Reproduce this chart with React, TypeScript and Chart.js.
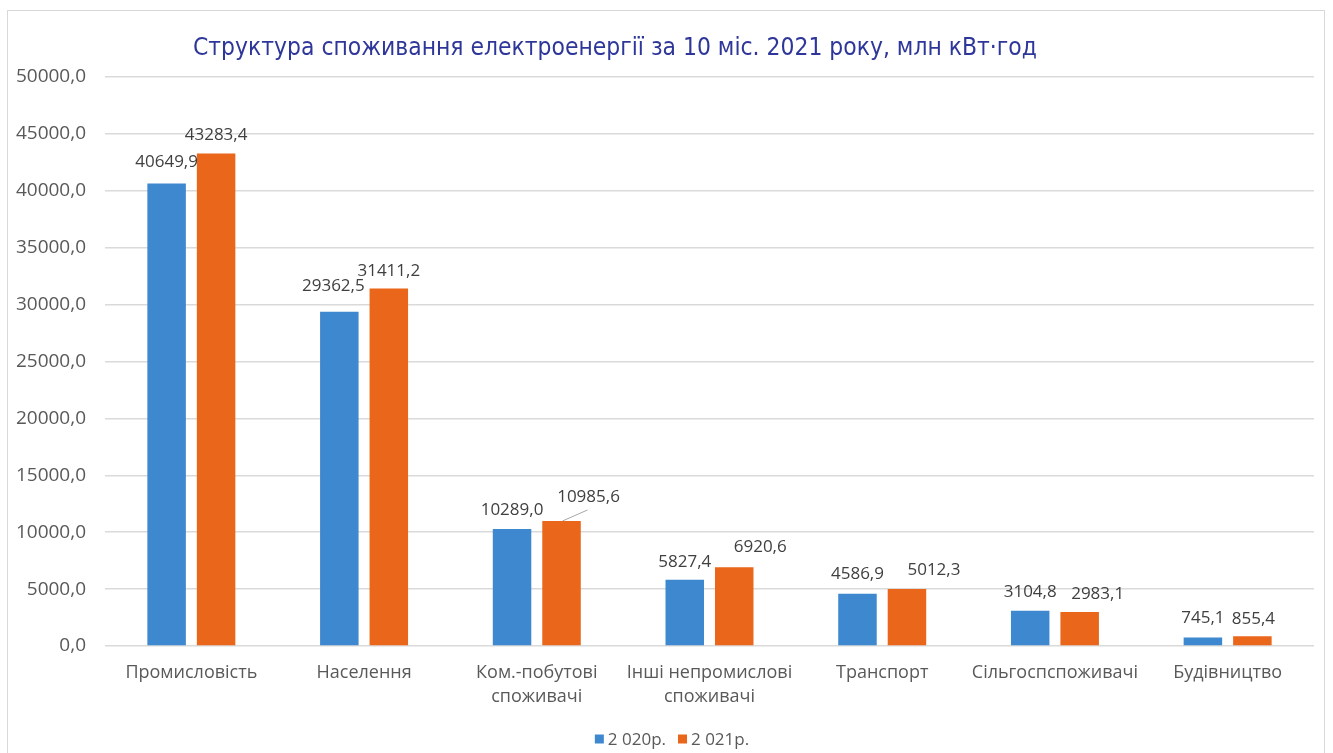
import React, { useEffect, useRef } from "react";
import { Chart, registerables } from "chart.js";

Chart.register(...registerables);

const TITLE = "Структура споживання електроенергії за 10 міс. 2021 року, млн кВт·год";
const categories: (string | string[])[] = [
  "Промисловість",
  "Населення",
  ["Ком.-побутові", "споживачі"],
  ["Інші непромислові", "споживачі"],
  "Транспорт",
  "Сільгоспспоживачі",
  "Будівництво",
];
const seriesLabels = ["2 020р.", "2 021р."];
const values2020 = [40649.9, 29362.5, 10289.0, 5827.4, 4586.9, 3104.8, 745.1];
const values2021 = [43283.4, 31411.2, 10985.6, 6920.6, 5012.3, 2983.1, 855.4];
const yMin = 0;
const yMax = 50000;
const yStep = 5000;

const COLORS = ["#3E88CF", "#E9661A"];
const TEXT = "#595959";
const LABEL_TEXT = "#404040";
const FONT = "'Open Sans', 'Noto Sans', sans-serif";

// label nudges relative to the default position above each bar [dx, dy]
const NUDGES: number[][][] = [
  [[0, -2], [-6, -7], [0, 0], [0, 1], [0, -1], [0, 0], [0, 0]],
  [[0, 1], [0, 2], [27, -5], [26, -1], [27, 0], [18, 1], [1, 2]],
];
const LEADERS: { ds: number; i: number }[] = [{ ds: 1, i: 2 }];

const fmt = (v: number) => v.toFixed(1).replace(".", ",");

const decorPlugin = {
  id: "decor",
  afterDatasetsDraw(chart: any) {
    const ctx: CanvasRenderingContext2D = chart.ctx;
    ctx.save();
    ctx.font = `17px ${FONT}`;
    ctx.fillStyle = LABEL_TEXT;
    ctx.textAlign = "center";
    ctx.textBaseline = "middle";
    chart.data.datasets.forEach((ds: any, di: number) => {
      const meta = chart.getDatasetMeta(di);
      meta.data.forEach((bar: any, i: number) => {
        const [dx, dy] = NUDGES[di][i];
        ctx.fillText(fmt(ds.data[i]), bar.x + dx, bar.y - 19 + dy);
      });
    });
    ctx.strokeStyle = "#A6A6A6";
    ctx.lineWidth = 1;
    LEADERS.forEach(({ ds, i }) => {
      const bar: any = chart.getDatasetMeta(ds).data[i];
      ctx.beginPath();
      ctx.moveTo(bar.x + 1, bar.y);
      ctx.lineTo(bar.x + 26, bar.y - 11);
      ctx.stroke();
    });
    ctx.restore();
  },
  afterDraw(chart: any) {
    const ctx: CanvasRenderingContext2D = chart.ctx;
    ctx.save();
    // title
    ctx.font = `24.4px 'Liberation Sans Narrow', 'DejaVu Sans Condensed', sans-serif`;
    ctx.fillStyle = "#2E3799";
    ctx.textAlign = "left";
    ctx.textBaseline = "alphabetic";
    ctx.fillText(TITLE, 193, 55);
    // legend
    ctx.font = `17px ${FONT}`;
    const box = 9;
    const gapBox = 4;
    const gapItem = 12;
    const widths = chart.data.datasets.map(
      (d: any) => box + gapBox + ctx.measureText(d.label).width
    );
    const total = widths.reduce((a: number, b: number) => a + b, 0) + gapItem;
    let x = 672 - total / 2;
    const cy = 739;
    chart.data.datasets.forEach((d: any, di: number) => {
      ctx.fillStyle = d.backgroundColor;
      ctx.fillRect(x, cy - box / 2, box, box);
      ctx.fillStyle = TEXT;
      ctx.textBaseline = "middle";
      ctx.fillText(d.label, x + box + gapBox, cy + 1);
      x += widths[di] + gapItem;
    });
    ctx.restore();
  },
};

export default function App() {
  const ref = useRef<HTMLCanvasElement | null>(null);
  useEffect(() => {
    if (!ref.current) return;
    const chart = new Chart(ref.current, {
      type: "bar",
      data: {
        labels: categories,
        datasets: [
          {
            label: seriesLabels[0],
            data: values2020,
            backgroundColor: COLORS[0],
            categoryPercentage: 0.573,
            barPercentage: 0.778,
          },
          {
            label: seriesLabels[1],
            data: values2021,
            backgroundColor: COLORS[1],
            categoryPercentage: 0.573,
            barPercentage: 0.778,
          },
        ],
      },
      options: {
        responsive: false,
        animation: false,
        layout: { padding: { left: 0, right: 19, top: 77, bottom: 0 } },
        plugins: {
          legend: { display: false },
          title: { display: false },
          tooltip: { enabled: false },
        },
        scales: {
          x: {
            grid: { display: false, drawTicks: false },
            border: { display: false },
            ticks: {
              color: TEXT,
              font: { family: FONT, size: 18, lineHeight: 24 / 18 },
              padding: 15,
              maxRotation: 0,
              autoSkip: false,
            },
            afterFit: (axis: any) => {
              axis.height = 107;
            },
          },
          y: {
            min: yMin,
            max: yMax,
            grid: { color: "#DADADA", lineWidth: 1.5, drawTicks: false },
            border: { display: false },
            ticks: {
              stepSize: yStep,
              color: TEXT,
              font: { family: FONT, size: 19 },
              padding: 19,
              callback: (v: any) => fmt(Number(v)),
            },
            afterFit: (axis: any) => {
              axis.width = 105;
            },
          },
        },
      },
      plugins: [decorPlugin],
    });
    return () => chart.destroy();
  }, []);
  return (
    <div style={{ position: "absolute", left: 0, top: 0, width: 1333, height: 753, background: "#fff", overflow: "hidden" }}>
      <div
        style={{
          position: "absolute",
          left: 7,
          top: 10,
          width: 1318,
          height: 760,
          border: "1px solid #D9D9D9",
          boxSizing: "border-box",
        }}
      />
      <canvas ref={ref} width={1333} height={753} style={{ position: "absolute", left: 0, top: 0 }} />
    </div>
  );
}
